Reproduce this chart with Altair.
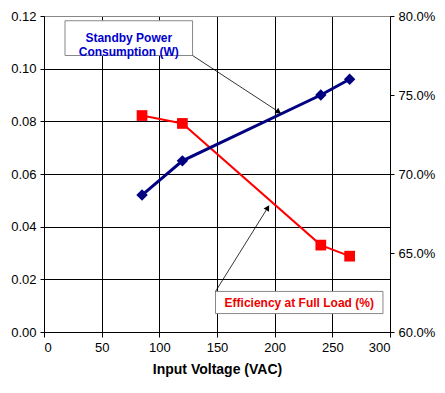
import altair as alt
import pandas as pd

# ---- data ----
voltage = [85, 120, 240, 265]
standby_w = [0.052, 0.065, 0.090, 0.096]
efficiency = [0.737, 0.732, 0.655, 0.648]

x_ticks = [0, 50, 100, 150, 200, 250, 300]
left_ticks = [0.00, 0.02, 0.04, 0.06, 0.08, 0.10, 0.12]
right_ticks = [0.60, 0.65, 0.70, 0.75, 0.80]

standby_label = ["Standby Power", "Consumption (W)"]
eff_label = "Efficiency at Full Load (%)"

# annotation boxes / arrows (in data units of the left axis)
box1 = {"x": 18.2, "x2": 128.8, "y": 0.1050, "y2": 0.1182}
box2 = {"x": 148.7, "x2": 293.9, "y": 0.0070, "y2": 0.0154}
arrow1 = {"x": 128.8, "y": 0.1050, "x2": 203.5, "y2": 0.0836, "angle": 124}
arrow2 = {"x": 148.7, "y": 0.0154, "x2": 194.0, "y2": 0.0472, "angle": 31}
text1_pos = {"x": 73.5, "y": 0.1116}
text2_pos = {"x": 221.3, "y": 0.0112}

FONT = "Liberation Sans"
BLUE = "#000080"
RED = "#FF0000"

df = pd.DataFrame({"v": voltage, "p": standby_w, "e": efficiency})

xscale = alt.Scale(domain=[0, 300], nice=False, zero=False)
lscale = alt.Scale(domain=[0, 0.12], nice=False)
rscale = alt.Scale(domain=[0.6, 0.8], nice=False, zero=False)

x_axis = alt.Axis(
    values=x_ticks, title="Input Voltage (VAC)", grid=True,
    gridColor="black", gridOpacity=1, gridWidth=1,
    domainColor="black", tickColor="black", tickSize=5,
    labelFont=FONT, labelFontSize=13, labelColor="black", labelPadding=4,
    titleFont=FONT, titleFontSize=14, titleFontWeight="bold", titleColor="black",
    titlePadding=8,
)
left_axis = alt.Axis(
    orient="left", values=left_ticks, format=".2f", title=None, grid=True,
    gridColor=alt.condition("datum.value >= 0.119", alt.value("#888888"), alt.value("black")),
    gridOpacity=1, gridWidth=1,
    domainColor="black", tickColor="black", tickSize=4,
    labelFont=FONT, labelFontSize=13, labelColor="black", labelPadding=4,
)
right_axis = alt.Axis(
    orient="right", values=right_ticks, format=".1%", title=None, grid=False,
    domainColor="black", tickColor="black", tickSize=4,
    labelFont=FONT, labelFontSize=13, labelColor="black", labelPadding=4,
)


def X(field):
    return alt.X(f"{field}:Q", scale=xscale, axis=x_axis)


def YL(field):
    return alt.Y(f"{field}:Q", scale=lscale, axis=left_axis)


base = alt.Chart(df)

blue_line = base.mark_line(color=BLUE, strokeWidth=3).encode(x=X("v"), y=YL("p"))
blue_pts = base.mark_point(shape="diamond", filled=True, color=BLUE, size=130, opacity=1).encode(
    x=X("v"), y=YL("p")
)

box_df = pd.DataFrame([box1, box2])
boxes = alt.Chart(box_df).mark_rect(fill="white", stroke="#888888", strokeWidth=1).encode(
    x=X("x"), x2="x2:Q", y=YL("y"), y2="y2:Q",
)

arr_df = pd.DataFrame([arrow1, arrow2])
arr_lines = alt.Chart(arr_df).mark_rule(color="black", strokeWidth=0.8).encode(
    x=X("x"), x2="x2:Q", y=YL("y"), y2="y2:Q",
)
arr_heads = alt.Chart(arr_df).mark_point(shape="triangle-up", filled=True, color="black", size=40, opacity=1).encode(
    x=X("x2"), y=YL("y2"),
    angle=alt.Angle("angle:Q", scale=None),
)

t1 = alt.Chart(pd.DataFrame([text1_pos])).mark_text(
    text=standby_label, font=FONT, fontSize=12, fontWeight="bold", color="#0000CC",
    lineHeight=14, align="center", baseline="middle",
).encode(x=X("x"), y=YL("y"))
t2 = alt.Chart(pd.DataFrame([text2_pos])).mark_text(
    text=eff_label, font=FONT, fontSize=12, fontWeight="bold", color="#EE0000",
    align="center", baseline="middle",
).encode(x=X("x"), y=YL("y"))

red_line = base.mark_line(color=RED, strokeWidth=2).encode(
    x=X("v"), y=alt.Y("e:Q", scale=rscale, axis=right_axis),
)
red_pts = base.mark_point(shape="square", filled=True, color=RED, size=115, opacity=1).encode(
    x=X("v"), y=alt.Y("e:Q", scale=rscale, axis=right_axis),
)

left = alt.layer(blue_line, blue_pts, boxes, arr_lines, arr_heads, t1, t2)
right = alt.layer(red_line, red_pts)

chart = alt.layer(right, left).resolve_scale(y="independent").properties(
    width=346,
    height=316,
    autosize=alt.AutoSizeParams(type="none"),
    padding={"left": 36, "top": 8, "right": 47, "bottom": 46},
    background="white",
).configure_view(stroke=None)

chart.save("out.html", embed_options={"renderer": "svg", "actions": False})
